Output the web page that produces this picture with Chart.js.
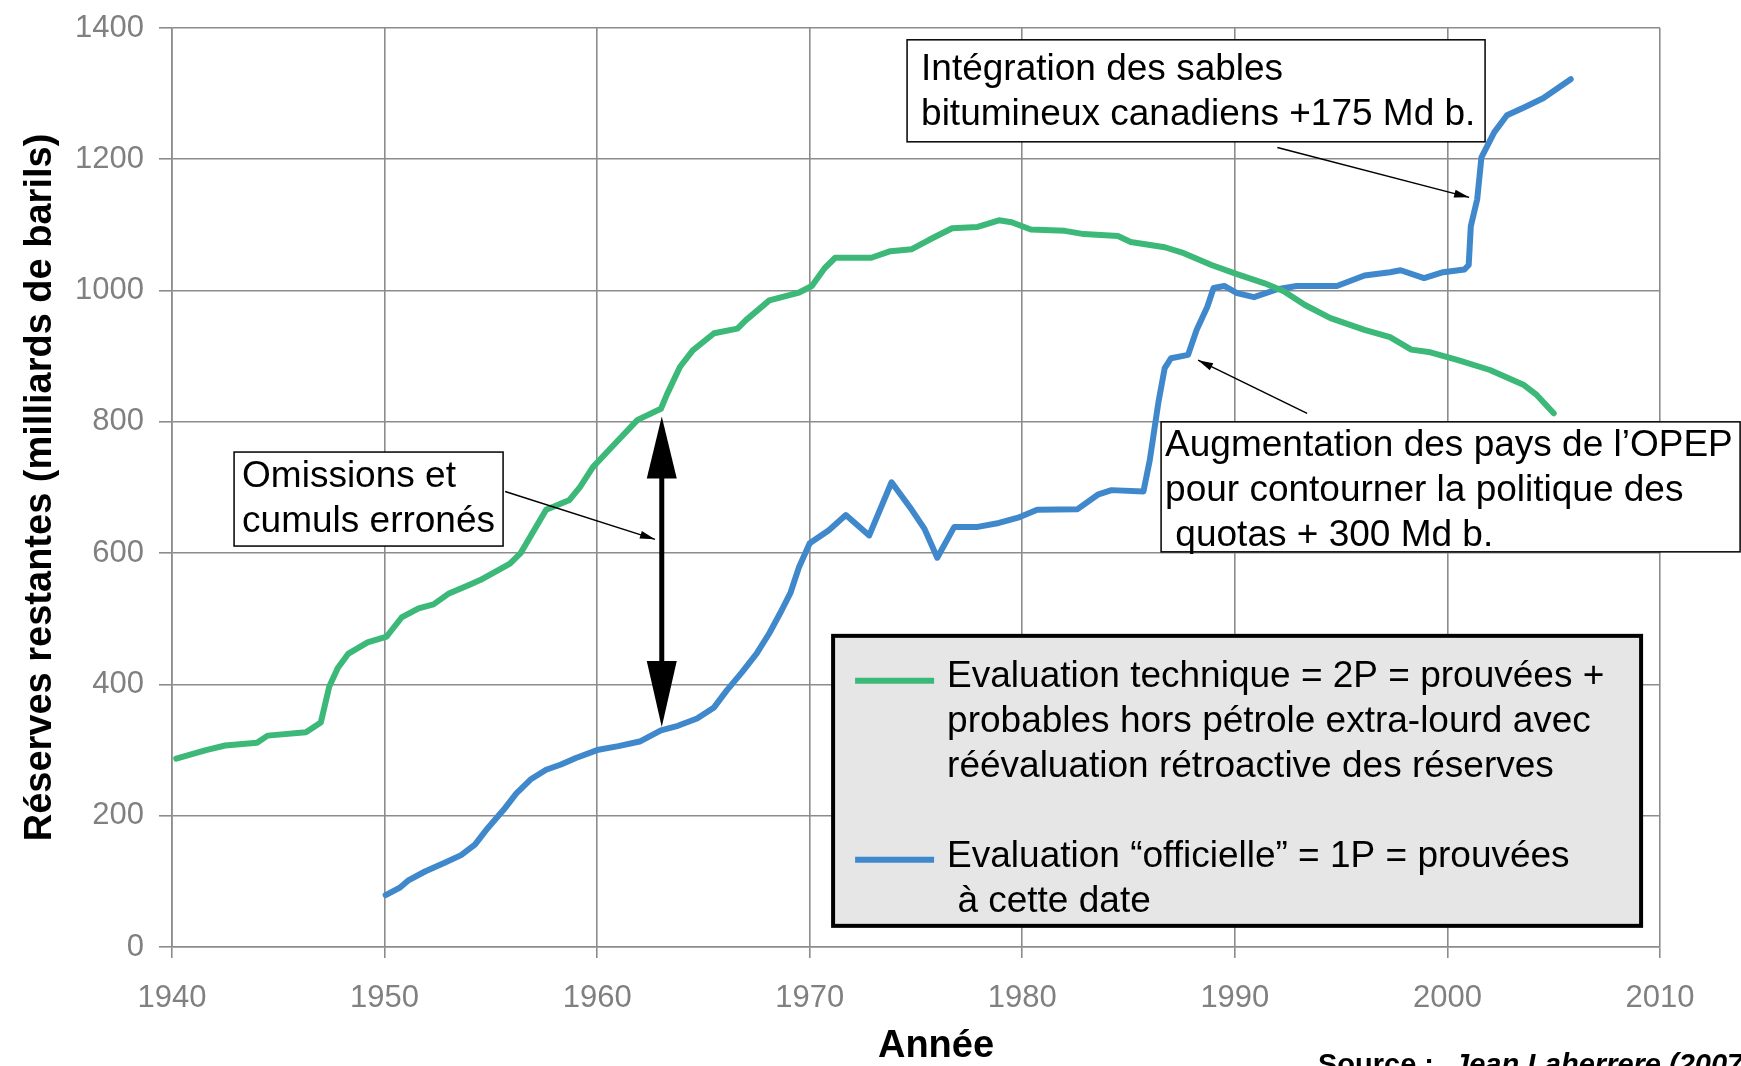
<!DOCTYPE html>
<html>
<head>
<meta charset="utf-8">
<script src="https://cdn.jsdelivr.net/npm/chart.js@4.4.1/dist/chart.umd.min.js"></script>
<style>
  html, body { margin: 0; padding: 0; background: #fff; overflow: hidden; }
</style>
</head>
<body>
<canvas id="reserves" width="1741" height="1066"></canvas>
<script>
// Evaluation technique 2P (green)
const greenYears = [1940.2, 1941.6, 1942.5, 1944, 1944.5, 1946.3, 1947, 1947.4, 1947.8, 1948.3, 1949.2,
  1950.1, 1950.8, 1951.6, 1952.3, 1953, 1954, 1954.5, 1955.9, 1956.4, 1957.6, 1958.7, 1959.2, 1959.8,
  1960.7, 1961.9, 1963, 1963.3, 1963.9, 1964.5, 1965.5, 1966.6, 1967, 1968.1, 1969.5, 1970.1, 1970.7,
  1971.2, 1972.9, 1973.8, 1974.8, 1975.6, 1976.7, 1977.9, 1978.9, 1979.5, 1980.4, 1982, 1982.9, 1984.5,
  1985.1, 1986.7, 1987.6, 1988.9, 1990.1, 1991.4, 1992.3, 1993.3, 1994.5, 1996.1, 1997.3, 1998.3, 1999.2,
  2000.5, 2002, 2003.6, 2004.2, 2005];
const greenValues = [287, 300, 307, 311, 322, 327, 342, 397, 425, 447, 464,
  473, 502, 516, 522, 538, 552, 559, 584, 600, 666, 681, 701, 731,
  762, 803, 820, 843, 884, 909, 935, 942, 955, 985, 997, 1007, 1034,
  1050, 1050, 1060, 1063, 1077, 1095, 1097, 1107, 1104, 1093, 1091, 1086, 1083,
  1074, 1066, 1057, 1039, 1025, 1011, 999, 978, 958, 940, 929, 910, 906,
  894, 879, 856, 841, 813];

// Evaluation "officielle" 1P (blue)
const blueYears = [1950.05, 1950.7, 1951.1, 1951.9, 1952.8, 1953.6, 1954.25, 1954.85, 1955.6, 1956.2,
  1956.9, 1957.6, 1958.3, 1959, 1960, 1961, 1962, 1963, 1963.8, 1964.7, 1965.5, 1966.1, 1966.8, 1967.5,
  1968.1, 1968.6, 1969.1, 1969.5, 1970, 1970.9, 1971.7, 1972.8, 1973.85, 1974.8, 1975.4, 1976, 1976.8,
  1977.9, 1978.9, 1979.8, 1980.7, 1982.6, 1983.55, 1984.2, 1985.7, 1986, 1986.4, 1986.7, 1987, 1987.8,
  1988.2, 1988.7, 1989, 1989.5, 1990.1, 1990.9, 1992, 1992.9, 1994.8, 1996.1, 1997.3, 1997.8, 1998.9,
  1999.8, 2000.8, 2001, 2001.1, 2001.4, 2001.6, 2002.2, 2002.8, 2003.6, 2004.5, 2005.8];
const blueValues = [79, 90, 101, 115, 128, 140, 156, 181, 209, 234,
  256, 270, 278, 288, 300, 306, 313, 330, 337, 348, 365, 391, 418, 447,
  478, 508, 540, 579, 615, 635, 658, 627, 708, 666, 637, 593, 640,
  640, 646, 654, 666, 667, 689, 696, 694, 742, 829, 882, 897, 902,
  940, 975, 1004, 1007, 996, 990, 1002, 1007, 1007, 1023, 1028, 1031, 1019,
  1028, 1032, 1039, 1098, 1139, 1203, 1241, 1267, 1279, 1293, 1322];

const yearTicks = [1940, 1950, 1960, 1970, 1980, 1990, 2000, 2010];
const valueTicks = [0, 200, 400, 600, 800, 1000, 1200, 1400];

const greenLabel = ['Evaluation technique = 2P = prouvées +',
  'probables hors pétrole extra-lourd avec',
  'réévaluation rétroactive des réserves'];
const blueLabel = ['Evaluation \u201cofficielle\u201d = 1P = prouvées', ' à cette date'];

const notes = [
  { at: [1942.92, 754], w: 269, h: 94, tx: 8, ty: 25, lines: ['Omissions et', 'cumuls erronés'],
    arrow: [1955.67, 694, 1962.72, 621] },
  { at: [1974.58, 1382], w: 578, h: 102, tx: 14, ty: 30,
    lines: ['Intégration des sables', 'bitumineux canadiens +175 Md b.'],
    arrow: [1992.0, 1218, 2001.02, 1142] },
  { at: [1986.53, 800], w: 579, h: 130, tx: 4, ty: 24,
    lines: ['Augmentation des pays de l\u2019OPEP', 'pour contourner la politique des', ' quotas + 300 Md b.'],
    arrow: [1993.4, 813, 1988.27, 894] }
];
const gapArrow = { year: 1963.04, top: 808, bottom: 335 };

const FONT = '"Liberation Sans", Arial, Helvetica, sans-serif';
Chart.defaults.font.family = FONT;

function head(ctx, fx, fy, tx, ty, len, half) {
  const a = Math.atan2(ty - fy, tx - fx);
  const c = Math.cos(a), s = Math.sin(a);
  ctx.beginPath();
  ctx.moveTo(tx, ty);
  ctx.lineTo(tx - len * c + half * s, ty - len * s - half * c);
  ctx.lineTo(tx - len * c - half * s, ty - len * s + half * c);
  ctx.closePath();
  ctx.fill();
}

const annotations = {
  id: 'annotations',
  afterDatasetsDraw(chart) {
    const ctx = chart.ctx;
    const xs = chart.scales.x, ys = chart.scales.y;
    ctx.save();
    ctx.font = '37px ' + FONT;
    ctx.textBaseline = 'middle';
    ctx.textAlign = 'left';
    notes.forEach(n => {
      const bx = xs.getPixelForValue(n.at[0]), by = ys.getPixelForValue(n.at[1]);
      ctx.fillStyle = '#fff';
      ctx.fillRect(bx, by, n.w, n.h);
      ctx.strokeStyle = '#000';
      ctx.lineWidth = 1.5;
      ctx.strokeRect(bx, by, n.w, n.h);
      ctx.fillStyle = '#000';
      n.lines.forEach((t, i) => ctx.fillText(t, bx + n.tx, by + n.ty + i * 45));
      const x1 = xs.getPixelForValue(n.arrow[0]), y1 = ys.getPixelForValue(n.arrow[1]);
      const x2 = xs.getPixelForValue(n.arrow[2]), y2 = ys.getPixelForValue(n.arrow[3]);
      ctx.lineWidth = 1.5;
      ctx.beginPath();
      ctx.moveTo(x1, y1);
      ctx.lineTo(x2, y2);
      ctx.stroke();
      head(ctx, x1, y1, x2, y2, 15, 4);
    });

    // double arrow between the two evaluations
    const gx = xs.getPixelForValue(gapArrow.year);
    const gt = ys.getPixelForValue(gapArrow.top), gb = ys.getPixelForValue(gapArrow.bottom);
    ctx.lineWidth = 5;
    ctx.beginPath();
    ctx.moveTo(gx, gt + 50);
    ctx.lineTo(gx, gb - 50);
    ctx.stroke();
    head(ctx, gx, gb, gx, gt, 62, 15);
    head(ctx, gx, gt, gx, gb, 66, 15);

    // legend box
    const lx = xs.getPixelForValue(1971.1), ly = ys.getPixelForValue(474);
    const lw = 808, lh = 290;
    ctx.fillStyle = '#e6e6e6';
    ctx.fillRect(lx, ly, lw, lh);
    ctx.lineWidth = 4;
    ctx.strokeStyle = '#000';
    ctx.strokeRect(lx, ly, lw, lh);
    const rows = [[0, 45, 41], [1, 224, 221]];
    ctx.font = '37px ' + FONT;
    rows.forEach(([i, sy, ty]) => {
      const ds = chart.data.datasets[i];
      ctx.strokeStyle = ds.borderColor;
      ctx.lineWidth = 6;
      ctx.beginPath();
      ctx.moveTo(lx + 22, ly + sy);
      ctx.lineTo(lx + 101, ly + sy);
      ctx.stroke();
      ctx.fillStyle = '#000';
      ds.legendLines.forEach((t, k) => ctx.fillText(t, lx + 114, ly + ty + k * 45));
    });

    // x axis title
    ctx.font = 'bold 38px ' + FONT;
    ctx.textAlign = 'center';
    ctx.fillText('Année', (xs.left + xs.right) / 2 + 20, 1047);

    // source line, cut by the bottom edge
    ctx.textAlign = 'left';
    ctx.textBaseline = 'alphabetic';
    ctx.font = 'bold 29px ' + FONT;
    ctx.fillText('Source :', 1318, 1074);
    ctx.font = 'italic bold 29px ' + FONT;
    ctx.fillText('Jean Laherrere (2007)', 1453, 1074);
    ctx.restore();
  }
};

const gridStyle = { color: '#8c8c8c', lineWidth: 1.6 };

new Chart(document.getElementById('reserves'), {
  type: 'line',
  data: {
    datasets: [
      {
        label: greenLabel.join(' '),
        legendLines: greenLabel,
        data: greenYears.map((x, i) => ({ x: x, y: greenValues[i] })),
        borderColor: '#3cb878',
        borderWidth: 6,
        pointRadius: 0,
        tension: 0,
        borderJoinStyle: 'round',
        borderCapStyle: 'round'
      },
      {
        label: blueLabel.join(' '),
        legendLines: blueLabel,
        data: blueYears.map((x, i) => ({ x: x, y: blueValues[i] })),
        borderColor: '#4088cc',
        borderWidth: 6,
        pointRadius: 0,
        tension: 0,
        borderJoinStyle: 'round',
        borderCapStyle: 'round'
      }
    ]
  },
  options: {
    responsive: false,
    animation: false,
    layout: { padding: { top: 28, right: 81, left: 0, bottom: 0 } },
    plugins: { legend: { display: false }, tooltip: { enabled: false } },
    scales: {
      x: {
        type: 'linear',
        min: 1940,
        max: 2010,
        afterFit: s => { s.height = 119; },
        afterBuildTicks: s => { s.ticks = yearTicks.map(v => ({ value: v })); },
        ticks: { callback: v => String(v), color: '#808080', font: { size: 31 }, padding: 22, maxRotation: 0 },
        grid: { ...gridStyle, tickLength: 11 },
        border: { color: '#8c8c8c', width: 1.6 },
        title: { display: false }
      },
      y: {
        min: 0,
        max: 1400,
        afterFit: s => { s.width = 172; s.paddingTop = 10; s.paddingBottom = 10; },
        afterBuildTicks: s => { s.ticks = valueTicks.map(v => ({ value: v })); },
        ticks: { callback: v => String(v), color: '#808080', font: { size: 31 }, padding: 15 },
        grid: { ...gridStyle, tickLength: 13 },
        border: { color: '#8c8c8c', width: 1.6 },
        title: { display: true, text: 'Réserves restantes (milliards de barils)', color: '#000',
                 font: { size: 38, weight: 'bold' }, padding: { top: 18, bottom: 0 } }
      }
    }
  },
  plugins: [annotations]
});
</script>
</body>
</html>
